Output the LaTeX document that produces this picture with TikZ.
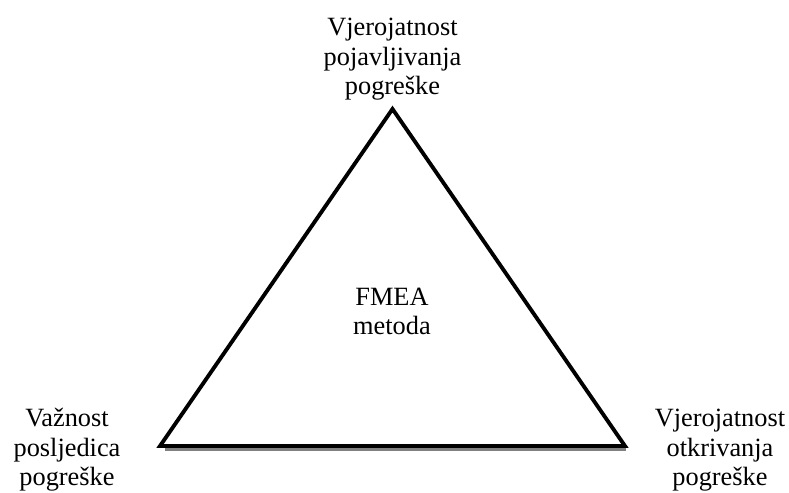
\documentclass[tikz,border=0pt]{standalone}
\usepackage{fontspec}
\setmainfont{Liberation Serif}
\usetikzlibrary{positioning}
\begin{document}
\begin{tikzpicture}[x=0.02cm, y=-0.02cm, every node/.style={font=\fontsize{15}{17.07}\selectfont}]
    \tikzstyle{corner} = [align=center, inner sep=0pt, anchor=base]
    \tikzstyle{edge} = [line width=2.2pt, line join=miter]
    \useasboundingbox (0,0) rectangle (789,493);
    \coordinate (apex) at (392.5,109);
    \coordinate (leftcorner) at (160,446);
    \coordinate (rightcorner) at (625,446);
    % shadow under the base
    \coordinate (shadowstart) at (165,449.8);
    \coordinate (shadowend) at (626,449.8);
    \draw [gray, line width=1.9pt] (shadowstart) -- (shadowend);
    \draw [edge] (apex) -- (leftcorner) -- (rightcorner) -- cycle;

    \node (top) [corner] at (392.5,95) {Vjerojatnost\\pojavljivanja\\pogreške};
    \node (importance) [corner] at (67,486) {Važnost\\posljedica\\pogreške};
    \node (detection) [corner] at (720,486) {Vjerojatnost\\otkrivanja\\pogreške};
    \node (method) [corner] at (392,335) {FMEA\\metoda};
\end{tikzpicture}
\end{document}
